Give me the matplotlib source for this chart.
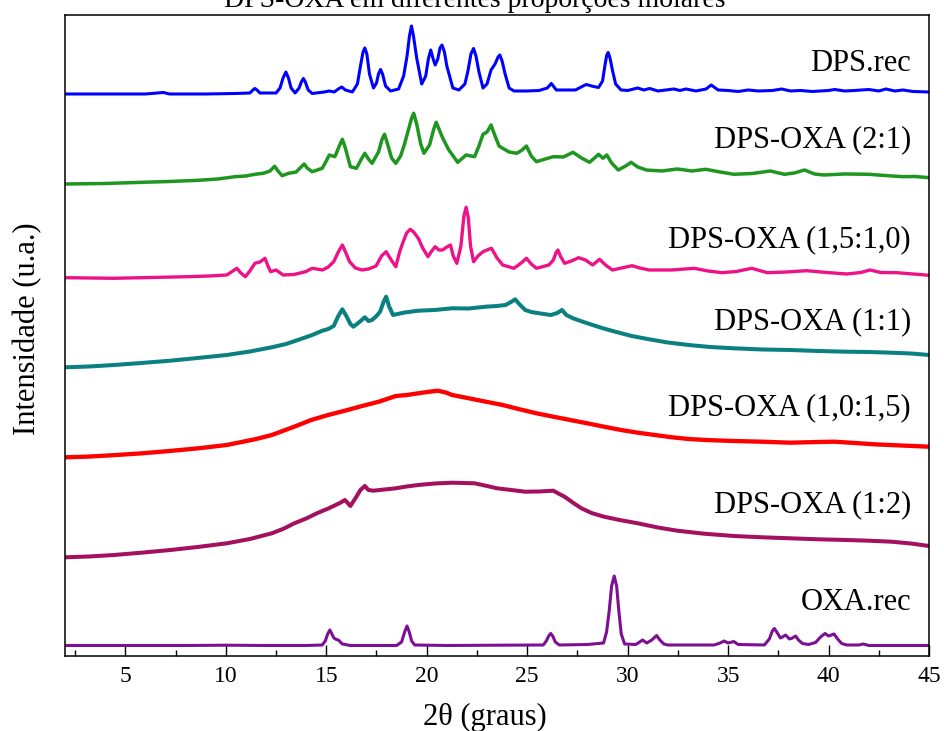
import numpy as np
import matplotlib
matplotlib.use('Agg')
import matplotlib.pyplot as plt

plt.rcParams['font.family'] = ['Liberation Serif', 'DejaVu Serif']

# dados (2theta em graus, intensidade em u.a.)
dps_rec = [(2.0, 62), (4.0, 62), (6.0, 62), (6.9, 63.5), (7.2, 62), (9.0, 62), (10.5, 62.5),
           (11.2, 63), (11.35, 66), (11.45, 67.5), (11.55, 66), (11.7, 63), (12.5, 63), (12.7, 68),
           (12.85, 78), (12.99, 84), (13.12, 78), (13.25, 68), (13.45, 63), (13.65, 68), (13.76, 74),
           (13.86, 77.5), (13.96, 74), (14.1, 66), (14.3, 62.5), (14.9, 64), (15.15, 65), (15.4, 64),
           (15.6, 67), (15.77, 69), (15.95, 66), (16.3, 64), (16.55, 72), (16.72, 92), (16.83, 104),
           (16.92, 108), (17.02, 102), (17.15, 82), (17.35, 68), (17.5, 73), (17.6, 82), (17.7, 86.5),
           (17.8, 82), (17.95, 70), (18.2, 65), (18.6, 67), (18.85, 80), (19.02, 100), (19.14, 120),
           (19.24, 130), (19.34, 120), (19.5, 98), (19.75, 72), (19.95, 80), (20.08, 97), (20.2, 106),
           (20.32, 97), (20.42, 91), (20.55, 97), (20.66, 108), (20.76, 111), (20.88, 104), (21.0, 90),
           (21.3, 68), (21.6, 66), (21.9, 72), (22.05, 85), (22.2, 102), (22.33, 107.5), (22.45, 100),
           (22.6, 84), (22.8, 68), (23.0, 72), (23.2, 86), (23.4, 92), (23.55, 99), (23.64, 101),
           (23.75, 95), (23.9, 82), (24.1, 68), (24.34, 65), (25.0, 65), (25.6, 65.5), (26.0, 68),
           (26.2, 72.5), (26.45, 66), (26.86, 66), (27.4, 66), (27.93, 71.5), (28.3, 69.5),
           (28.55, 68.5), (28.75, 75), (28.88, 92), (28.96, 101), (29.03, 103.5), (29.12, 98),
           (29.25, 85), (29.4, 72), (29.67, 66), (30.0, 65.5), (30.5, 68), (30.8, 66), (31.1, 67.5),
           (31.5, 65), (32.3, 67), (32.6, 65.5), (32.9, 67), (33.4, 65), (33.9, 67), (34.16, 71),
           (34.5, 66), (35.0, 65.5), (35.5, 64.5), (36.0, 66), (36.5, 65), (37.2, 65.5), (37.66, 67),
           (38.1, 65), (38.6, 65.5), (39.2, 64.5), (40.0, 65.5), (40.3, 66.5), (40.8, 65), (41.3, 65.5),
           (42.0, 66.5), (42.5, 65), (42.85, 67), (43.3, 65), (43.7, 66), (44.2, 64.5), (45.0, 64)]

dps_oxa_2_1 = [(2.06, 72), (4.0, 72.5), (5.84, 73.7), (7.2, 74.5), (8.64, 75.7), (9.6, 77),
               (10.47, 79.3), (11.0, 80), (11.45, 81.7), (11.87, 82.7), (12.2, 85), (12.43, 89.7),
               (12.6, 85), (12.8, 80.3), (13.13, 82.7), (13.5, 84), (13.75, 89), (13.9, 92), (14.05, 88),
               (14.3, 84.3), (14.8, 87.7), (15.0, 95), (15.15, 101), (15.43, 99.3), (15.65, 110),
               (15.8, 116.7), (15.95, 108), (16.2, 89.3), (16.5, 87.7), (16.75, 97), (16.92, 102.7),
               (17.1, 97), (17.28, 92.7), (17.6, 104), (17.78, 117), (17.9, 121.7), (18.05, 112),
               (18.25, 98), (18.46, 92.7), (18.7, 100), (18.88, 111), (19.1, 127), (19.25, 138),
               (19.35, 142.7), (19.5, 132), (19.7, 112), (19.86, 102.7), (20.14, 111), (20.35, 127),
               (20.47, 133.7), (20.65, 125), (20.8, 117.7), (21.1, 106), (21.54, 93.7), (21.96, 101),
               (22.38, 99.3), (22.6, 110), (22.8, 121.7), (23.0, 124), (23.2, 131), (23.4, 120),
               (23.6, 110), (23.78, 107.7), (24.1, 104), (24.48, 102.7), (24.75, 106), (24.96, 110),
               (25.2, 100), (25.46, 94.3), (25.9, 97), (26.3, 99.3), (26.8, 99), (27.28, 103.7),
               (27.7, 98), (28.1, 93.7), (28.35, 98), (28.55, 101.7), (28.77, 97.7), (28.96, 101),
               (29.2, 93), (29.53, 86), (29.9, 90), (30.17, 93.7), (30.5, 89), (30.93, 86), (31.7, 85),
               (32.47, 87), (33.2, 85), (33.88, 86.7), (34.6, 84), (35.28, 81.7), (36.2, 82.5), (37.1, 85),
               (37.8, 81.7), (38.3, 83), (38.8, 86), (39.3, 82), (39.76, 81), (40.8, 82), (42.0, 81.7),
               (42.8, 80.5), (43.7, 79.3), (44.3, 79.5), (45.0, 78.3)]

dps_oxa_15_10 = [(2.0, 78.3), (4.44, 77.7), (6.3, 78.5), (8.08, 79.3), (9.2, 80), (10.05, 81),
                 (10.35, 85), (10.55, 87.7), (10.75, 83), (10.97, 79.3), (11.2, 85), (11.45, 92.7),
                 (11.7, 94), (11.95, 97.7), (12.1, 90), (12.23, 84.3), (12.5, 86), (12.85, 81),
                 (13.4, 81.5), (13.97, 84.3), (14.3, 87.7), (14.81, 86), (15.1, 89), (15.37, 94.3),
                 (15.6, 104), (15.8, 111), (15.98, 103), (16.16, 94.3), (16.45, 88), (16.78, 86),
                 (17.1, 87), (17.48, 90), (17.75, 100), (17.98, 104.3), (18.2, 97), (18.46, 89.3),
                 (18.65, 104), (18.8, 112.7), (19.0, 123), (19.18, 126.7), (19.35, 124), (19.58, 117.7),
                 (19.8, 108), (20.06, 99.3), (20.25, 105), (20.42, 109.3), (20.6, 106), (20.78, 106),
                 (21.0, 109), (21.18, 111), (21.32, 100), (21.5, 92.7), (21.7, 110), (21.85, 140),
                 (21.96, 148.7), (22.07, 138), (22.18, 110), (22.33, 94.3), (22.55, 100), (22.8, 104.3),
                 (23.0, 106), (23.22, 107.7), (23.5, 98), (23.78, 91), (24.34, 87.7), (24.7, 93),
                 (24.96, 97.7), (25.2, 92), (25.46, 87.7), (26.08, 91), (26.3, 96), (26.45, 104),
                 (26.53, 106), (26.65, 100), (26.86, 92.7), (27.2, 95), (27.56, 98.3), (27.9, 96),
                 (28.26, 91), (28.6, 96.7), (28.9, 91), (29.24, 86), (29.7, 88), (30.22, 90.3),
                 (30.6, 88), (31.07, 86), (32.2, 86), (33.3, 87.7), (34.0, 85), (34.7, 83.3),
                 (35.4, 84.5), (36.17, 87.7), (36.95, 83.3), (37.9, 84), (38.9, 85.3), (39.9, 83.5),
                 (40.9, 82), (41.6, 83.5), (42.06, 86), (42.6, 83.5), (43.4, 83.3), (44.2, 82),
                 (45.0, 80.7)]

dps_oxa_1_1 = [(2.0, 88.7), (3.2, 89.5), (4.44, 91), (5.8, 93), (7.24, 95.3), (8.6, 98), (10.05, 101),
               (11.2, 104.5), (12.29, 108.7), (13.0, 112), (13.69, 116.7), (14.3, 121), (14.81, 125.3),
               (15.1, 127), (15.37, 130), (15.6, 140), (15.8, 146.7), (16.0, 140), (16.2, 132),
               (16.35, 129.3), (16.65, 134), (16.92, 138.7), (17.1, 135), (17.28, 136), (17.5, 140),
               (17.68, 144.3), (17.85, 154), (17.98, 159.3), (18.12, 150), (18.32, 141), (18.9, 143.5),
               (19.58, 145.3), (20.4, 146), (21.26, 147.7), (22.1, 147.5), (22.94, 149.3), (23.5, 150),
               (23.92, 151), (24.2, 154), (24.4, 156.7), (24.6, 152), (24.9, 146), (25.2, 144),
               (25.6, 142.7), (26.17, 141), (26.5, 143), (26.73, 146), (26.95, 141), (27.28, 137.7),
               (27.8, 134), (28.26, 131), (28.8, 127.5), (29.38, 124.3), (30.2, 120), (31.07, 116.7),
               (32.0, 113.5), (33.03, 111), (34.1, 109), (35.28, 107.7), (36.7, 106.5), (38.08, 106),
               (39.5, 105), (40.88, 104.3), (42.0, 104), (43.13, 103.3), (44.1, 102.5), (45.0, 101)]

dps_oxa_10_15 = [(2.0, 98.7), (3.04, 99.3), (4.4, 100.8), (5.84, 102.7), (7.2, 105), (8.64, 107.7),
                 (10.05, 111), (11.45, 116.7), (12.29, 121), (13.41, 129.3), (14.25, 136), (15.09, 141),
                 (15.93, 145.3), (16.78, 150), (17.62, 154.3), (18.46, 160), (19.02, 161), (19.58, 162.7),
                 (20.14, 164.3), (20.56, 165.3), (20.98, 163.3), (21.26, 161), (22.1, 157.7),
                 (22.94, 154.3), (23.78, 151), (24.62, 146.7), (25.46, 142.7), (26.3, 139.3), (27.14, 136),
                 (27.99, 132.7), (28.82, 129.3), (29.67, 126), (30.5, 123.3), (31.35, 121), (32.2, 118.7),
                 (33.03, 117), (33.88, 116), (35.28, 115), (36.68, 114.3), (38.08, 113.3), (39.48, 114),
                 (40.3, 114.3), (41.3, 113), (42.26, 111.7), (43.6, 110.5), (45.0, 109.3)]

dps_oxa_1_2 = [(2.0, 48.7), (3.2, 49.5), (4.44, 51), (5.8, 53.3), (7.24, 56), (8.6, 59), (10.05, 62.7),
               (11.2, 67), (12.29, 72.7), (12.9, 77.5), (13.41, 82.7), (14.0, 87.5), (14.53, 92.7),
               (15.1, 97.5), (15.65, 102.7), (15.93, 106), (16.2, 100), (16.5, 109.3), (16.7, 116),
               (16.92, 120), (17.1, 116), (17.34, 115.3), (17.9, 116.5), (18.46, 117.7), (19.0, 119.5),
               (19.58, 121), (20.4, 122.5), (21.26, 123.3), (21.8, 123), (22.38, 122.7), (23.0, 120),
               (23.5, 117.7), (24.2, 116), (24.9, 114.3), (25.6, 114.5), (26.3, 115.3), (26.6, 112),
               (26.86, 109.3), (27.3, 103), (27.7, 97.7), (28.2, 93), (28.82, 89.3), (29.6, 86),
               (30.5, 82.7), (31.5, 78.5), (32.47, 75.3), (33.8, 72.3), (35.28, 70), (36.7, 68.7),
               (38.08, 67.7), (39.5, 66.7), (40.88, 66), (42.0, 65.3), (43.13, 64.3), (44.1, 62.5),
               (45.0, 60)]

oxa_rec = [(2.0, 10.5), (5.0, 10.5), (8.0, 10.5), (10.0, 10.8), (12.0, 10.5), (14.0, 10.5), (14.8, 11),
           (14.95, 15), (15.07, 22), (15.18, 26), (15.28, 22), (15.38, 18), (15.5, 16.5), (15.6, 16),
           (15.8, 12), (16.2, 10.5), (18.5, 10.5), (18.75, 14), (18.9, 24), (19.02, 30), (19.13, 24),
           (19.25, 15), (19.4, 11), (21.0, 10.5), (23.5, 10.8), (25.8, 11), (25.95, 15), (26.07, 20),
           (26.17, 22.5), (26.27, 20), (26.4, 14), (26.6, 11), (28.0, 11.5), (28.8, 13), (28.95, 24),
           (29.08, 45), (29.2, 70), (29.33, 80), (29.45, 70), (29.56, 45), (29.68, 22), (29.85, 12),
           (30.4, 11.5), (30.6, 14), (30.74, 16), (30.95, 13), (31.2, 16), (31.44, 20.5), (31.6, 16),
           (31.8, 12), (32.0, 11), (34.3, 11), (34.6, 13), (34.8, 15), (35.0, 13), (35.28, 14.5),
           (35.5, 11.5), (36.8, 11), (37.05, 17), (37.2, 25), (37.3, 27.5), (37.42, 24), (37.6, 18),
           (37.7, 19), (37.86, 21), (38.05, 17), (38.2, 18), (38.36, 20), (38.5, 16), (38.7, 12.5),
           (39.0, 11.5), (39.35, 13.5), (39.6, 19), (39.82, 22.5), (40.0, 20), (40.27, 22), (40.45, 17),
           (40.65, 12.5), (40.9, 11), (41.5, 11), (41.73, 12), (42.0, 10.5), (45.0, 10.5)]

series = [dps_rec, dps_oxa_2_1, dps_oxa_15_10, dps_oxa_1_1, dps_oxa_10_15, dps_oxa_1_2, oxa_rec]
offsets = [500, 400, 300, 200, 100, 50, 0]
labels = ['DPS.rec', 'DPS-OXA (2:1)', 'DPS-OXA (1,5:1,0)', 'DPS-OXA (1:1)',
          'DPS-OXA (1,0:1,5)', 'DPS-OXA (1:2)', 'OXA.rec']
colors = ['#0000ff', '#1f961f', '#ee1289', '#0b8080', '#ff0000', '#a3115e', '#7d0f94']
widths = [2.2, 2.5, 2.4, 2.9, 3.1, 2.9, 2.2]
label_y = [0.925, 0.805, 0.649, 0.521, 0.387, 0.236, 0.083]

fig = plt.figure(figsize=(9.44, 7.31), dpi=100)
ax = fig.add_axes([0.0689, 0.1026, 0.9153, 0.8769])

for pts, off, col, lw in zip(series, offsets, colors, widths):
    d = np.array(pts)
    ax.plot(d[:, 0], d[:, 1] + off, color=col, lw=lw, solid_joinstyle='round')

for lab, ly in zip(labels, label_y):
    ax.text(0.979, ly, lab, transform=ax.transAxes, ha='right', va='center', fontsize=22)

ax.set_xlim(2, 45)
ax.set_ylim(0, 641)
ax.set_xticks(np.arange(5, 46, 5))
ax.set_xticks(np.arange(2.5, 45, 2.5), minor=True)
ax.set_yticks([])
ax.tick_params(axis='x', which='major', direction='in', length=8, width=1, labelsize=17, pad=7)
ax.tick_params(axis='x', which='minor', direction='in', length=4, width=1)
for s in ax.spines.values():
    s.set_linewidth(1.1)

fig.text(0.514, 0.019, '2θ (graus)', ha='center', va='center', fontsize=22)
fig.text(0.0297, 0.551, 'Intensidade (u.a.)', ha='center', va='center', rotation=90, fontsize=22)
fig.text(0.503, 0.9904, 'DPS-OXA em diferentes proporções molares', ha='center', va='baseline',
         fontsize=20)

fig.savefig('out.png', dpi=100)
